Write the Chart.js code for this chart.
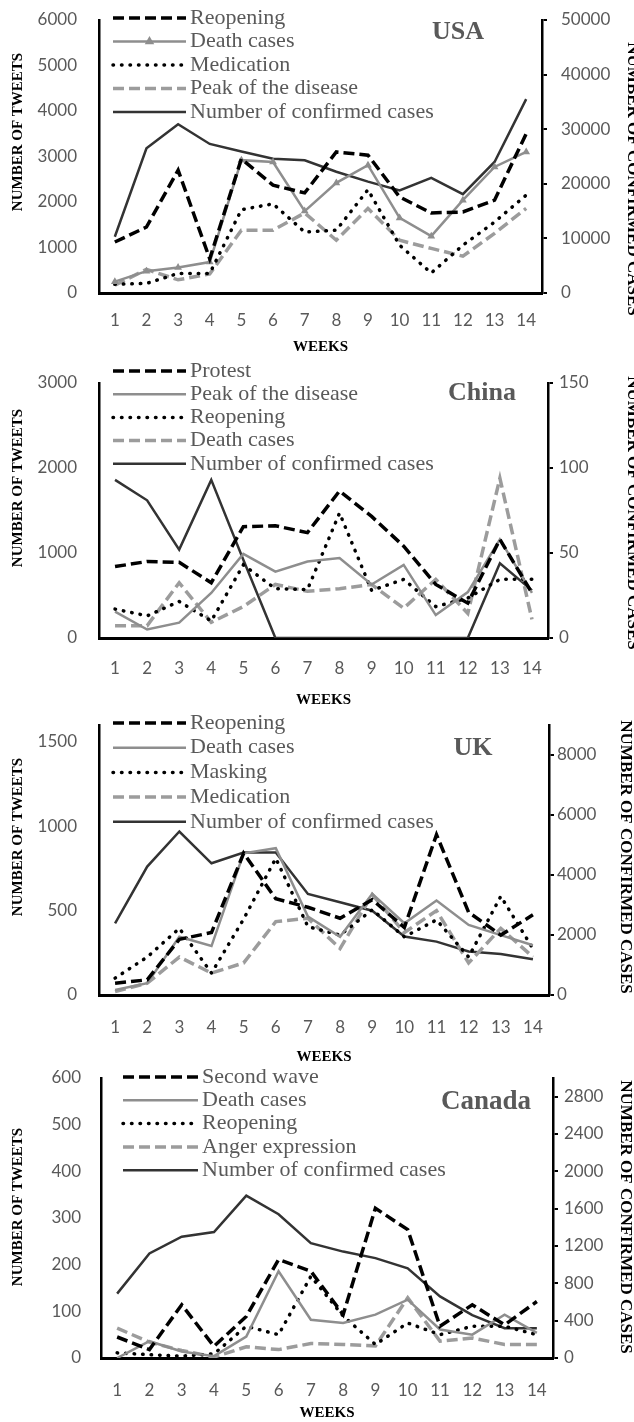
<!DOCTYPE html>
<html>
<head>
<meta charset="utf-8">
<script src="https://cdn.jsdelivr.net/npm/chart.js@4.4.0/dist/chart.umd.min.js"></script>
<style>
body{margin:0;background:#fff;}
#wrap{position:relative;width:634px;height:1422px;overflow:hidden;background:#fff;}
#wrap canvas{position:absolute;left:0;}
</style>
</head>
<body>
<div id="wrap">
  <canvas id="usa" width="634" height="360" style="top:0px"></canvas>
  <canvas id="china" width="634" height="370" style="top:340px"></canvas>
  <canvas id="uk" width="634" height="385" style="top:690px"></canvas>
  <canvas id="canada" width="634" height="362" style="top:1060px"></canvas>
</div>
<script>
//Weeks on the x axis, same for all four panels
const weeks = ["1","2","3","4","5","6","7","8","9","10","11","12","13","14"];

//USA values (tweets on the left axis, confirmed cases on the right one)
const usa_reopening = [1120, 1450, 2700, 750, 2950, 2370, 2200, 3100, 3030, 2110, 1760, 1780, 2040, 3500];
const usa_death = [250, 480, 560, 680, 2920, 2880, 1800, 2420, 2810, 1650, 1250, 2040, 2770, 3100];
const usa_medication = [190, 210, 430, 430, 1830, 1960, 1340, 1380, 2270, 1050, 440, 1050, 1560, 2150];
const usa_peak = [170, 520, 290, 420, 1380, 1380, 1760, 1160, 1860, 1160, 980, 810, 1310, 1860];
const usa_confirmed = [10300, 26500, 30900, 27300, 25900, 24600, 24300, 22200, 20400, 18800, 21100, 18100, 24000, 35500];
const usa_left_ticks = [0, 1000, 2000, 3000, 4000, 5000, 6000];
const usa_right_ticks = [0, 10000, 20000, 30000, 40000, 50000];

//China values
const china_protest = [840, 900, 890, 650, 1310, 1320, 1240, 1730, 1430, 1080, 630, 410, 1160, 530];
const china_peak = [310, 100, 180, 530, 990, 780, 900, 940, 630, 860, 270, 540, 1160, 530];
const china_reopening = [340, 260, 430, 200, 860, 580, 570, 1470, 560, 690, 370, 470, 690, 690];
const china_death = [145, 145, 650, 185, 370, 630, 550, 580, 630, 350, 690, 290, 1880, 220];
const china_confirmed = [93, 81, 52, 93, 46, 0, 0, 0, 0, 0, 0, 0, 44, 28];
const china_left_ticks = [0, 1000, 2000, 3000];
const china_right_ticks = [0, 50, 100, 150];

//UK values
const uk_reopening = [70, 90, 330, 370, 840, 570, 520, 455, 565, 400, 950, 490, 355, 475];
const uk_death = [30, 70, 345, 290, 840, 870, 465, 345, 600, 425, 560, 415, 355, 295];
const uk_masking = [100, 225, 395, 130, 450, 810, 405, 355, 505, 345, 445, 225, 585, 275];
const uk_medication = [20, 70, 225, 130, 190, 435, 455, 275, 595, 370, 500, 190, 395, 225];
const uk_confirmed = [2390, 4280, 5450, 4390, 4750, 4750, 3370, 3090, 2810, 1950, 1780, 1450, 1370, 1190];
const uk_left_ticks = [0, 500, 1000, 1500];
const uk_right_ticks = [0, 2000, 4000, 6000, 8000];

//Canada values
const canada_second_wave = [45, 18, 114, 25, 89, 211, 186, 93, 321, 275, 68, 114, 71, 121];
const canada_death = [0, 36, 14, 4, 46, 186, 82, 75, 93, 125, 61, 50, 93, 54];
const canada_reopening = [11, 7, 4, 9, 68, 50, 175, 90, 29, 75, 50, 68, 68, 50];
const canada_anger = [64, 34, 16, 2, 24, 18, 31, 29, 26, 129, 36, 43, 29, 29];
const canada_confirmed = [690, 1120, 1300, 1350, 1740, 1540, 1230, 1140, 1070, 960, 660, 460, 320, 320];
const canada_left_ticks = [0, 100, 200, 300, 400, 500, 600];
const canada_right_ticks = [0, 400, 800, 1200, 1600, 2000, 2400, 2800];

//Line looks, Excel style
function blackDash(label, data){
    return {label: label, data: data, borderColor: "#000000", borderWidth: 3.5, borderDash: [11, 5], yAxisID: "y"};
}
function greySolid(label, data){
    return {label: label, data: data, borderColor: "#8e8e8e", borderWidth: 2.5, yAxisID: "y"};
}
function blackDots(label, data){
    return {label: label, data: data, borderColor: "#000000", borderWidth: 3.5, borderDash: [0.5, 8], borderCapStyle: "round", yAxisID: "y"};
}
function greyDash(label, data){
    return {label: label, data: data, borderColor: "#9c9c9c", borderWidth: 3.5, borderDash: [11, 5], yAxisID: "y"};
}
function confirmedLine(data){
    return {label: "Number of confirmed cases", data: data, borderColor: "#333333", borderWidth: 2.5, yAxisID: "y1"};
}

//Legend, country name and the two vertical axis titles are painted here
const panelDecor = {
    id: "panelDecor",
    afterDraw(chart, args, o){
        var ctx = chart.ctx;
        ctx.save();
        chart.data.datasets.forEach(function(ds, i){
            var y = o.legendY + i * o.legendGap;
            ctx.strokeStyle = ds.borderColor;
            ctx.lineWidth = ds.borderWidth;
            ctx.setLineDash(ds.borderDash || []);
            ctx.lineCap = ds.borderCapStyle || "butt";
            ctx.beginPath();
            ctx.moveTo(o.legendX, y);
            ctx.lineTo(o.legendX + o.sampleLen, y);
            ctx.stroke();
            ctx.setLineDash([]);
            if(ds.pointRadius > 0){
                ctx.fillStyle = ds.borderColor;
                Chart.helpers.drawPoint(ctx, {pointStyle: "triangle", radius: 3, borderWidth: 1}, o.legendX + o.sampleLen / 2, y);
            }
            ctx.fillStyle = "#595959";
            ctx.font = o.legendSize + "px 'Liberation Serif'";
            ctx.textBaseline = "middle";
            ctx.textAlign = "left";
            ctx.fillText(ds.label, o.legendX + o.sampleLen + 4, y);
        });
        //Country name
        ctx.fillStyle = "#595959";
        ctx.font = "bold " + o.nameSize + "px 'Liberation Serif'";
        ctx.textAlign = "center";
        ctx.textBaseline = "middle";
        ctx.fillText(o.name, o.nameX, o.nameY);
        //Axis titles
        ctx.fillStyle = "#000000";
        ctx.font = "bold 15px 'Liberation Serif'";
        ctx.save();
        ctx.translate(o.leftTitle[0], o.leftTitle[1]);
        ctx.rotate(-Math.PI / 2);
        ctx.fillText("NUMBER OF TWEETS", 0, 0);
        ctx.restore();
        ctx.font = "bold 17px 'Liberation Serif'";
        ctx.save();
        ctx.translate(o.rightTitle[0], o.rightTitle[1]);
        ctx.rotate(Math.PI / 2);
        ctx.fillText("NUMBER OF CONFIRMED CASES", 0, 0);
        ctx.restore();
        ctx.restore();
    }
};

function tickLabel(v){
    return String(v);
}

function drawPanel(canvas_id, s){
    var canvas = document.getElementById(canvas_id);
    var H = canvas.height;
    return new Chart(canvas.getContext("2d"), {
        type: "line",
        data: {labels: weeks, datasets: s.datasets},
        options: {
            responsive: false,
            animation: false,
            devicePixelRatio: 1,
            layout: {padding: {top: s.area[2], left: 0, right: 0, bottom: 0}},
            elements: {line: {tension: 0, fill: false}, point: {radius: 0}},
            plugins: {legend: {display: false}, tooltip: {enabled: false}, panelDecor: s.decor},
            scales: {
                x: {
                    offset: true,
                    grid: {display: false, drawTicks: false},
                    border: {display: true, color: "#000000", width: 3},
                    ticks: {color: "#595959", font: {family: "Lato", size: 17}, padding: s.xPad, maxRotation: 0, autoSkip: false},
                    title: {display: true, text: "WEEKS", color: "#000000", font: {family: "Liberation Serif", size: 15, weight: "bold"}, padding: {top: 0, bottom: s.weeksPad}},
                    afterFit: function(scale){ scale.height = H - s.area[3]; }
                },
                y: {
                    position: "left",
                    min: s.leftTicks[0],
                    max: s.leftMax,
                    grid: {display: false, drawTicks: false},
                    border: {display: true, color: "#000000", width: 2.5},
                    ticks: {color: "#595959", font: {family: "Lato", size: 17}, padding: s.leftPad, callback: tickLabel},
                    afterBuildTicks: function(scale){ scale.ticks = s.leftTicks.map(function(v){ return {value: v}; }); },
                    afterFit: function(scale){
                        scale.width = s.area[0];
                        //the plot top/bottom are set by hand, labels can stick out
                        scale.paddingTop = 0;
                        scale.paddingBottom = 0;
                    }
                },
                y1: {
                    position: "right",
                    min: s.rightTicks[0],
                    max: s.rightMax,
                    grid: {display: true, drawOnChartArea: false, drawTicks: true, tickLength: 5, color: "#000000", lineWidth: 2},
                    border: {display: true, color: "#000000", width: 2.5},
                    ticks: {color: "#595959", font: {family: "Lato", size: 17}, padding: s.rightPad, callback: tickLabel},
                    afterBuildTicks: function(scale){ scale.ticks = s.rightTicks.map(function(v){ return {value: v}; }); },
                    afterFit: function(scale){
                        scale.width = 634 - s.area[1];
                        scale.paddingTop = 0;
                        scale.paddingBottom = 0;
                    }
                }
            }
        },
        plugins: [panelDecor]
    });
}

//USA panel
var usa_death_set = greySolid("Death cases", usa_death);
usa_death_set.pointRadius = 2;
usa_death_set.pointStyle = "triangle";
usa_death_set.pointBackgroundColor = "#8e8e8e";
usa_death_set.pointBorderColor = "#8e8e8e";
drawPanel("usa", {
    datasets: [blackDash("Reopening", usa_reopening), usa_death_set, blackDots("Medication", usa_medication),
               greyDash("Peak of the disease", usa_peak), confirmedLine(usa_confirmed)],
    area: [99, 542, 20, 293],
    leftTicks: usa_left_ticks, leftMax: 6000, rightTicks: usa_right_ticks, rightMax: 50000,
    xPad: 17, weeksPad: 4, leftPad: 22, rightPad: 14,
    decor: {legendX: 113, sampleLen: 73, legendY: 18, legendGap: 23.5, legendSize: 22,
            name: "USA", nameX: 458, nameY: 32, nameSize: 26, leftTitle: [18, 132], rightTitle: [632, 179]}
});

//China panel
drawPanel("china", {
    datasets: [blackDash("Protest", china_protest), greySolid("Peak of the disease", china_peak),
               blackDots("Reopening", china_reopening), greyDash("Death cases", china_death), confirmedLine(china_confirmed)],
    area: [99, 548, 43, 298],
    leftTicks: china_left_ticks, leftMax: 3000, rightTicks: china_right_ticks, rightMax: 150,
    xPad: 20, weeksPad: 1, leftPad: 22, rightPad: 6,
    decor: {legendX: 113, sampleLen: 73, legendY: 31, legendGap: 23.2, legendSize: 22,
            name: "China", nameX: 482, nameY: 53, nameSize: 26, leftTitle: [18, 148], rightTitle: [632, 173]}
});

//UK panel
drawPanel("uk", {
    datasets: [blackDash("Reopening", uk_reopening), greySolid("Death cases", uk_death),
               blackDots("Masking", uk_masking), greyDash("Medication", uk_medication), confirmedLine(uk_confirmed)],
    area: [99, 549, 35, 305],
    leftTicks: uk_left_ticks, leftMax: 1600, rightTicks: uk_right_ticks, rightMax: 9000,
    xPad: 22, weeksPad: 9, leftPad: 22, rightPad: 3,
    decor: {legendX: 113, sampleLen: 73, legendY: 33, legendGap: 24.7, legendSize: 22,
            name: "UK", nameX: 473, nameY: 58, nameSize: 26, leftTitle: [18, 147], rightTitle: [625, 167]}
});

//Canada panel
drawPanel("canada", {
    datasets: [blackDash("Second wave", canada_second_wave), greySolid("Death cases", canada_death),
               blackDots("Reopening", canada_reopening), greyDash("Anger expression", canada_anger), confirmedLine(canada_confirmed)],
    area: [101, 553, 18, 298],
    leftTicks: canada_left_ticks, leftMax: 600, rightTicks: canada_right_ticks, rightMax: 3000,
    xPad: 22, weeksPad: 0, leftPad: 20, rightPad: 6,
    decor: {legendX: 123, sampleLen: 75, legendY: 17, legendGap: 23.3, legendSize: 22,
            name: "Canada", nameX: 486, nameY: 42, nameSize: 27, leftTitle: [18, 147], rightTitle: [625, 157]}
});
</script>
</body>
</html>
